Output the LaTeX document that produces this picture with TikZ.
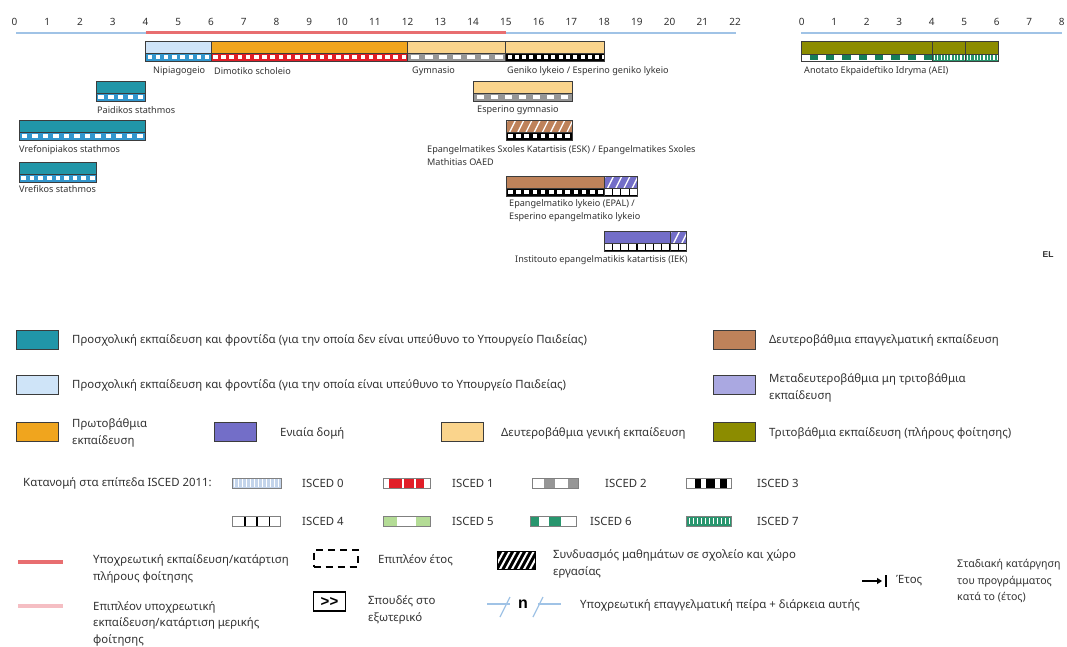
\documentclass[tikz,border=0pt]{standalone}
\usepackage{fontspec}
\setmainfont{Noto Sans}
\newfontfamily\boldsans{Liberation Sans}
\usetikzlibrary{arrows.meta}
\definecolor{cteal}{RGB}{33,150,168}
\definecolor{clblue}{RGB}{207,228,248}
\definecolor{corange}{RGB}{240,165,30}
\definecolor{clorange}{RGB}{250,212,140}
\definecolor{cbrown}{RGB}{190,130,90}
\definecolor{cpurple}{RGB}{115,110,200}
\definecolor{clav}{RGB}{170,168,225}
\definecolor{colive}{RGB}{140,140,0}
\definecolor{cred}{RGB}{232,110,112}
\definecolor{cpink}{RGB}{245,190,195}
\definecolor{caxis}{RGB}{160,195,230}
\definecolor{izero}{RGB}{50,150,205}
\definecolor{ione}{RGB}{225,30,40}
\definecolor{itwo}{RGB}{150,150,150}
\definecolor{isix}{RGB}{20,125,90}
\definecolor{iseven}{RGB}{40,150,110}
\definecolor{ifive}{RGB}{180,220,150}
\definecolor{izerol}{RGB}{195,212,235}
\definecolor{ctext}{RGB}{50,50,50}
\definecolor{cline}{RGB}{60,60,60}
\newcommand\sqstrip[6]{%
  \begin{scope}
    \clip (#1,#3) rectangle (#2,#4);
    \fill[#5] (#1,#3) rectangle (#2,#4);
    \pgfmathtruncatemacro\nn{(#2-#1)/#6}
    \foreach \k in {0,...,\nn}{
      \fill[white] ({#1+(\k+0.25)*#6},{#3+1.7}) rectangle ({#1+(\k+0.8)*#6},{#4-1.7});
    }
  \end{scope}}
\newcommand\blkstrip[6]{%
  \begin{scope}
    \clip (#1,#3) rectangle (#2,#4);
    \fill[white] (#1,#3) rectangle (#2,#4);
    \pgfmathtruncatemacro\nn{(#2-#1)/#6}
    \foreach \k in {0,...,\nn}{
      \fill[#5] ({#1+(\k+0.5)*#6},{#3+1.2}) rectangle ({#1+(\k+1)*#6},{#4-1.2});
    }
  \end{scope}}
\newcommand\cellstrip[5]{%
  \fill[white] (#1,#3) rectangle (#2,#4);
  \pgfmathtruncatemacro\nn{(#2-#1)/#5}
  \foreach \k in {1,...,\nn}{
    \draw[black, line width=1.3] ({#1+\k*#5},#3) -- ({#1+\k*#5},#4);
  }
  \draw[black, line width=1.3] (#1,#4) -- (#2,#4);}
\newcommand\vstripes[6]{%
  \begin{scope}
    \clip (#1,#3) rectangle (#2,#4);
    \fill[#5] (#1,#3) rectangle (#2,#4);
    \pgfmathtruncatemacro\nn{(#2-#1)/#6}
    \foreach \k in {0,...,\nn}{
      \fill[white] ({#1+(\k+0.5)*#6},{#3+1.2}) rectangle ({#1+(\k+0.85)*#6},{#4-1.2});
    }
  \end{scope}}
\newcommand\hatchfill[6]{%
  \begin{scope}
    \clip (#1,#3) rectangle (#2,#4);
    \fill[#5] (#1,#3) rectangle (#2,#4);
    \pgfmathtruncatemacro\nn{(#2-#1)/#6+2}
    \foreach \k in {0,...,\nn}{
      \draw[white, line width=1.3] ({#1+\k*#6-5},{#4+1}) -- ({#1+\k*#6+2},{#3-1});
    }
  \end{scope}}
\newcommand\outl[5]{%
  \draw[cline, line width=0.8] (#1,#3) rectangle (#2,#5);
  \draw[cline, line width=0.6] (#1,#4) -- (#2,#4);}
\tikzset{
  axnum/.style={font=\fontsize{10}{12}\selectfont, text=ctext, inner sep=0},
  lbl/.style={font=\fontsize{9.1}{12.7}\selectfont, text=ctext, inner sep=0, anchor=west, align=left},
  legbox/.style={draw=cline, line width=0.8, minimum width=42pt, minimum height=19pt, inner sep=0},
  legtxt/.style={font=\fontsize{11.4}{16.5}\selectfont, text=ctext, inner sep=0, anchor=west, align=left},
  swatch/.style={draw=gray, line width=0.7}
}
\begin{document}
\begin{tikzpicture}[x=1pt,y=-1pt]
\useasboundingbox[fill=white] (0,0) rectangle (1067,646);
% ---------- main axis
\foreach \i in {0,...,22}
  \node[axnum] (ax\i) at ({14.5+32.75*\i},22) {\i};
\draw[caxis, line width=1.2] (16,33) -- (736,33);
\draw[cred, line width=3] (145.5,32) -- (505.75,32);
% ---------- right axis
\foreach \i in {0,...,8}
  \node[axnum] (bx\i) at ({801.7+32.5*\i},22) {\i};
\draw[caxis, line width=1.2] (801,33) -- (1062,33);
% ---------- row 1
\fill[clblue] (145.5,41) rectangle (211,53);
\sqstrip{145.5}{211}{53}{61}{izero}{8.2}
\outl{145.5}{211}{41}{53}{61}
\fill[corange] (211,41) rectangle (407.5,53);
\sqstrip{211}{407.5}{53}{61}{ione}{8.2}
\outl{211}{407.5}{41}{53}{61}
\fill[clorange] (407.5,41) rectangle (505.75,53);
\sqstrip{407.5}{505.75}{53}{61}{itwo}{14}
\outl{407.5}{505.75}{41}{53}{61}
\fill[clorange] (505.75,41) rectangle (604,53);
\sqstrip{505.75}{604}{53}{61}{black}{7.3}
\outl{505.75}{604}{41}{53}{61}
\node[lbl] (nipia) at (153,71) {Nipiagogeio};
\node[lbl] (dimot) at (214,71) {Dimotiko scholeio};
\node[lbl] (gymn) at (412,71) {Gymnasio};
\node[lbl] (genik) at (507,71) {Geniko lykeio / Esperino geniko lykeio};
% ---------- Paidikos
\fill[cteal] (96,81) rectangle (145.5,93);
\sqstrip{96}{145.5}{93}{101}{izero}{9.8}
\outl{96}{145.5}{81}{93}{101}
\node[lbl] (paid) at (97,110) {Paidikos stathmos};
% ---------- Vrefonipiakos
\fill[cteal] (19,120) rectangle (145.5,132);
\sqstrip{19}{145.5}{132}{140}{izero}{10.5}
\outl{19}{145.5}{120}{132}{140}
\node[lbl] (vrefon) at (19,150) {Vrefonipiakos stathmos};
% ---------- Vrefikos
\fill[cteal] (19,162) rectangle (96,174);
\sqstrip{19}{96}{174}{182}{izero}{8.6}
\outl{19}{96}{162}{174}{182}
\node[lbl] (vrefik) at (19,189) {Vrefikos stathmos};
% ---------- Esperino gymnasio
\fill[clorange] (473,81) rectangle (572,93);
\sqstrip{473}{572}{93}{101}{itwo}{14}
\outl{473}{572}{81}{93}{101}
\node[lbl] (espg) at (477,110) {Esperino gymnasio};
% ---------- ESK
\hatchfill{506}{572}{120}{132}{cbrown}{8.2}
\sqstrip{506}{572}{132}{140}{black}{8.2}
\outl{506}{572}{120}{132}{140}
\node[lbl] (esk) at (427,155.5) {Epangelmatikes Sxoles Katartisis (ESK) / Epangelmatikes Sxoles\\Mathitias OAED};
% ---------- EPAL
\fill[cbrown] (506,176) rectangle (604,188);
\hatchfill{604}{637.5}{176}{188}{cpurple}{8.2}
\sqstrip{506}{604}{188}{196}{black}{8.2}
\cellstrip{604}{637.5}{188}{196}{8.4}
\outl{506}{604}{176}{188}{196}
\outl{604}{637.5}{176}{188}{196}
\node[lbl] (epal) at (509,210.5) {Epangelmatiko lykeio (EPAL) /\\Esperino epangelmatiko lykeio};
% ---------- IEK
\fill[cpurple] (604,231) rectangle (670,243);
\hatchfill{670}{686.5}{231}{243}{cpurple}{8.2}
\cellstrip{604}{686.5}{243}{251}{8.25}
\outl{604}{670}{231}{243}{251}
\outl{670}{686.5}{231}{243}{251}
\node[lbl] (iek) at (515,260) {Institouto epangelmatikis katartisis (IEK)};
% ---------- AEI
\fill[colive] (801.7,41) rectangle (998,54);
\blkstrip{801.7}{932.3}{54}{61}{isix}{16.3}
\vstripes{932.3}{998}{54}{61}{iseven}{3.3}
\outl{801.7}{932.3}{41}{54}{61}
\outl{932.3}{965.7}{41}{54}{61}
\outl{965.7}{998}{41}{54}{61}
\node[lbl] (aei) at (804,71.5) {Anotato Ekpaideftiko Idryma (AEI)};
\node[font=\boldsans\bfseries\fontsize{8.5}{10}\selectfont, text=ctext, inner sep=0] (el) at (1048,255) {EL};
% ---------- legend colours
\node[legbox, fill=cteal] (lg1) at (37,339.5) {};
\node[legtxt] (lt1) at (72,340) {Προσχολική εκπαίδευση και φροντίδα (για την οποία δεν είναι υπεύθυνο το Υπουργείο Παιδείας)};
\node[legbox, fill=clblue] (lg2) at (37,385) {};
\node[legtxt] (lt2) at (72,385) {Προσχολική εκπαίδευση και φροντίδα (για την οποία είναι υπεύθυνο το Υπουργείο Παιδείας)};
\node[legbox, fill=corange] (lg3) at (37,432) {};
\node[legtxt] (lt3) at (72,433) {Πρωτοβάθμια\\εκπαίδευση};
\node[legbox, fill=cpurple] (lg4) at (235,432) {};
\node[legtxt] (lt4) at (280,433) {Ενιαία δομή};
\node[legbox, fill=clorange] (lg5) at (462.5,432) {};
\node[legtxt] (lt5) at (501,433) {Δευτεροβάθμια γενική εκπαίδευση};
\node[legbox, fill=cbrown] (lg6) at (734,339.5) {};
\node[legtxt] (lt6) at (769,340) {Δευτεροβάθμια επαγγελματική εκπαίδευση};
\node[legbox, fill=clav] (lg7) at (734,385) {};
\node[legtxt] (lt7) at (769,388) {Μεταδευτεροβάθμια μη τριτοβάθμια\\εκπαίδευση};
\node[legbox, fill=colive] (lg8) at (734,432) {};
\node[legtxt] (lt8) at (769,433) {Τριτοβάθμια εκπαίδευση (πλήρους φοίτησης)};
% ---------- ISCED legend
\node[legtxt] (isctitle) at (23,483) {Κατανομή στα επίπεδα ISCED 2011:};
% ISCED 0
\fill[izerol] (232,478) rectangle (281,488);
\foreach \k in {0,...,11} \draw[white, line width=0.9] ({234+\k*4},479) -- ({234+\k*4},487);
\draw[swatch] (232,478) rectangle (281,488);
\node[legtxt] (is0) at (302,483) {ISCED 0};
% ISCED 1
\fill[white] (383,478) rectangle (430,488);
\foreach \a/\b in {0.13/0.4,0.45/0.66,0.7/0.88} \fill[ione] ({383+\a*47},478) rectangle ({383+\b*47},488);
\draw[swatch] (383,478) rectangle (430,488);
\node[legtxt] (is1) at (452,483) {ISCED 1};
% ISCED 2
\fill[white] (532,478) rectangle (578,488);
\foreach \a/\b in {0.26/0.5,0.79/1} \fill[itwo] ({532+\a*46},478) rectangle ({532+\b*46},488);
\draw[swatch] (532,478) rectangle (578,488);
\node[legtxt] (is2) at (605,483) {ISCED 2};
% ISCED 3
\fill[white] (686,478) rectangle (731,488);
\foreach \a/\b in {0.2/0.34,0.45/0.64,0.75/0.9} \fill[black] ({686+\a*45},478) rectangle ({686+\b*45},488);
\draw[swatch] (686,478) rectangle (731,488);
\node[legtxt] (is3) at (757,483) {ISCED 3};
% ISCED 4
\fill[white] (232,516) rectangle (280,526);
\foreach \a in {0.27,0.52,0.78} \draw[black, line width=1.2] ({232+\a*48},516) -- ({232+\a*48},526);
\draw[swatch] (232,516) rectangle (280,526);
\node[legtxt] (is4) at (302,521) {ISCED 4};
% ISCED 5
\fill[white] (383,516) rectangle (430,526);
\foreach \a/\b in {0/0.3,0.7/1} \fill[ifive] ({383+\a*47},516) rectangle ({383+\b*47},526);
\draw[swatch] (383,516) rectangle (430,526);
\node[legtxt] (is5) at (452,521) {ISCED 5};
% ISCED 6
\fill[white] (530,516) rectangle (576,526);
\foreach \a/\b in {0/0.2,0.42/0.68} \fill[iseven] ({530+\a*46},516) rectangle ({530+\b*46},526);
\draw[swatch] (530,516) rectangle (576,526);
\node[legtxt] (is6) at (590,521) {ISCED 6};
% ISCED 7
\fill[iseven] (686,516) rectangle (731,526);
\foreach \k in {0,...,10} \fill[white] ({688.5+\k*4},518) rectangle ({690+\k*4},524);
\draw[swatch] (686,516) rectangle (731,526);
\node[legtxt] (is7) at (757,521) {ISCED 7};
% ---------- bottom legend
\coordinate (redA) at (18,562); \coordinate (redB) at (63,562);
\draw[cred, line width=4] (redA) -- (redB);
\node[legtxt] (bt1) at (93,569) {Υποχρεωτική εκπαίδευση/κατάρτιση\\πλήρους φοίτησης};
\coordinate (pinkA) at (18,606); \coordinate (pinkB) at (63,606);
\draw[cpink, line width=4] (pinkA) -- (pinkB);
\node[legtxt] (bt2) at (93,623.5) {Επιπλέον υποχρεωτική\\εκπαίδευση/κατάρτιση μερικής\\φοίτησης};
\node[draw=black, dashed, dash pattern=on 7pt off 5pt, line width=2, minimum width=44pt, minimum height=17pt, inner sep=0] (dashbox) at (335.5,558) {};
\node[legtxt] (bt3) at (378,560) {Επιπλέον έτος};
\node[draw=black, line width=1.5, minimum width=32pt, minimum height=19pt, inner sep=0, font=\boldsans\bfseries\fontsize{15}{16}\selectfont] (abroad) at (329.5,601.5) {>{}>};
\node[legtxt] (bt4) at (368,610) {Σπουδές στο\\εξωτερικό};
\begin{scope}
  \clip (497,551) rectangle (535,569);
  \fill[black] (497,551) rectangle (535,569);
  \foreach \k in {0,...,8} \draw[white, line width=2] ({493+\k*6},571) -- ({505+\k*6},549);
\end{scope}
\draw[black, line width=1] (497,551) rectangle (535,569);
\node[legtxt] (bt5) at (553,564) {Συνδυασμός μαθημάτων σε σχολείο και χώρο\\εργασίας};
% work experience symbol
\coordinate (wA) at (487,604); \coordinate (wB) at (510,604);
\coordinate (wC) at (538,604); \coordinate (wD) at (561,604);
\draw[caxis, line width=1.2] (wA) -- (wB);
\draw[caxis, line width=1.2] (500,617) -- (510,597);
\node[font=\boldsans\bfseries\fontsize{16}{17}\selectfont, inner sep=0] (nsym) at (523,604) {n};
\draw[caxis, line width=1.2] (533,617) -- (543,597);
\draw[caxis, line width=1.2] (wC) -- (wD);
\node[legtxt] (bt6) at (580,605) {Υποχρεωτική επαγγελματική πείρα + διάρκεια αυτής};
% phase-out
\coordinate (arA) at (862,581);
\coordinate (arB) at (882,581);
\draw[black, line width=1.6, -{Triangle[length=5pt,width=6pt]}] (arA) -- (arB);
\draw[black, line width=2] (886,575) -- (886,587);
\node[legtxt] (bt7) at (896,581) {Έτος};
\node[legtxt, font=\fontsize{10.6}{16.5}\selectfont] (bt8) at (957,581) {Σταδιακή κατάργηση\\του προγράμματος\\κατά το (έτος)};
\end{tikzpicture}
\end{document}
